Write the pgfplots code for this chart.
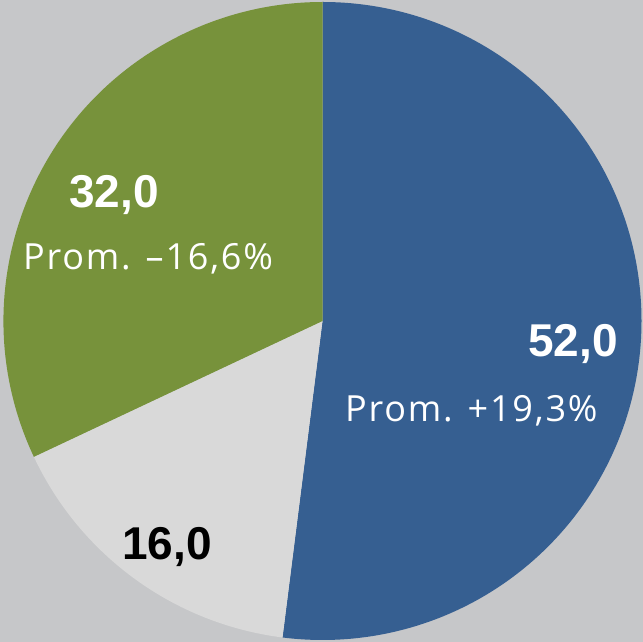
\documentclass[border=0pt]{standalone}
\usepackage{pgfplots}
\pgfplotsset{compat=1.18}
\usepackage{pgfplotstable}
\usepackage{fontspec}
\setmainfont{Liberation Sans}
\newfontfamily\promfont[LetterSpace=5]{Open Sans}
\definecolor{bgc}{HTML}{C6C7C9}
\definecolor{cblue}{HTML}{365F91}
\definecolor{cgreen}{HTML}{77923B}
\definecolor{cgray}{HTML}{D9D9D9}
\pgfplotstableread{
name value
A 52.0
B 16.0
C 32.0
}\piedata
\pgfplotstablegetelem{0}{value}\of\piedata \let\va\pgfplotsretval
\pgfplotstablegetelem{1}{value}\of\piedata \let\vb\pgfplotsretval
\pgfplotstablegetelem{2}{value}\of\piedata \let\vc\pgfplotsretval
\pgfmathsetmacro\aA{90}
\pgfmathsetmacro\aB{90-3.6*\va}
\pgfmathsetmacro\aC{\aB-3.6*\vb}
\pgfmathsetmacro\aD{\aC-3.6*\vc}
\begin{document}
\begin{tikzpicture}
\begin{axis}[
  width=643bp, height=642bp, scale only axis,
  xmin=0, xmax=643, ymin=0, ymax=642,
  hide axis,
  clip=false,
]
\fill[bgc] (axis cs:0,0) rectangle (axis cs:643,642);
\fill[cblue] (axis cs:322.5,321) -- ++(\aA:319bp) arc[start angle=\aA, end angle=\aB, radius=319bp] -- cycle;
\fill[cgray] (axis cs:322.5,321) -- ++(\aB:319bp) arc[start angle=\aB, end angle=\aC, radius=319bp] -- cycle;
\fill[cgreen] (axis cs:322.5,321) -- ++(\aC:319bp) arc[start angle=\aC, end angle=\aD, radius=319bp] -- cycle;
\node[anchor=base east, inner sep=0, text=white, font=\fontsize{46bp}{46bp}\selectfont\bfseries] at (axis cs:618,285) {52,0};
\node[anchor=base west, inner sep=0, text=white, font=\fontsize{36bp}{36bp}\selectfont\promfont] at (axis cs:345,220) {Prom. +19,3\%};
\node[anchor=base west, inner sep=0, text=white, font=\fontsize{46bp}{46bp}\selectfont\bfseries] at (axis cs:69,434) {32,0};
\node[anchor=base west, inner sep=0, text=white, font=\fontsize{36bp}{36bp}\selectfont\promfont] at (axis cs:23,372) {Prom. –16,6\%};
\node[anchor=base west, inner sep=0, text=black, font=\fontsize{46bp}{46bp}\selectfont\bfseries] at (axis cs:122,83) {16,0};
\end{axis}
\pgfresetboundingbox
\path[use as bounding box] (current axis.south west) rectangle (current axis.north east);
\end{tikzpicture}
\end{document}
